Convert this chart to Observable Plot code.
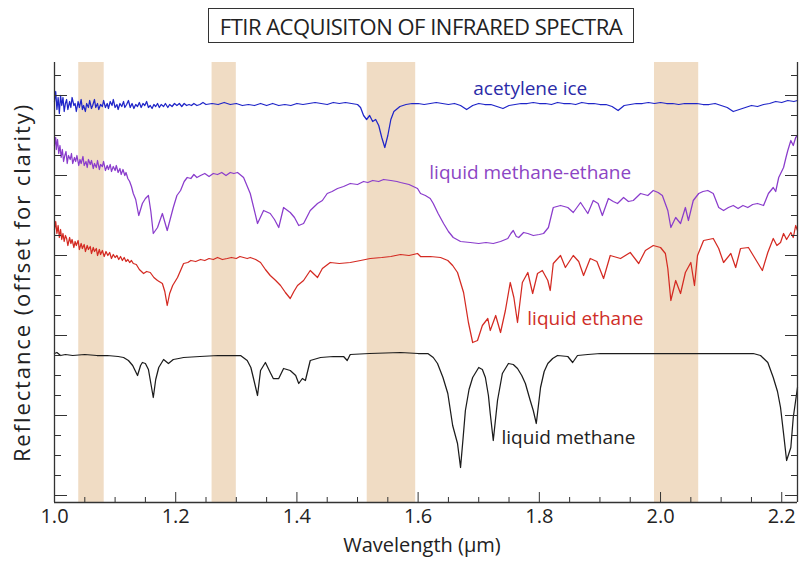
<!DOCTYPE html>
<html>
<head>
<meta charset="utf-8">
<script src="https://cdn.jsdelivr.net/npm/d3@7"></script>
<script src="https://cdn.jsdelivr.net/npm/@observablehq/plot@0.6"></script>
<style>
  html, body { margin: 0; padding: 0; background: #fff; }
  #wrap { position: relative; width: 800px; height: 561px; overflow: hidden; font-family: "Open Sans", sans-serif; }
  #title { position: absolute; left: 208px; top: 8px; width: 424px; height: 33px; border: 1.3px solid #333;
           display: flex; align-items: center; justify-content: center; font-size: 22px; color: #222; letter-spacing: -0.5px; white-space: nowrap; }
  #chart { position: absolute; left: 0; top: 0; }
</style>
</head>
<body>
<div id="wrap">
  <div id="chart"></div>
  <div id="title">FTIR ACQUISITON OF INFRARED SPECTRA</div>
</div>
<script>
// wavelength (µm), reflectance (offset units)
const acetyleneIce = [[1.000,19.7],[1.002,20.2],[1.004,19.3],[1.006,19.9],[1.008,19.1],[1.010,20.0],[1.012,19.5],[1.014,19.9],[1.016,19.2],[1.018,19.6],[1.020,19.8],[1.022,19.3],[1.025,19.7],[1.027,19.4],[1.029,19.9],[1.032,19.5],[1.034,19.6],[1.036,19.2],[1.039,19.7],[1.041,19.4],[1.044,19.8],[1.046,19.3],[1.048,19.5],[1.051,19.2],[1.053,19.6],[1.056,19.4],[1.058,19.75],[1.061,19.35],[1.063,19.5],[1.066,19.8],[1.068,19.4],[1.071,19.6],[1.073,19.3],[1.076,19.55],[1.079,19.45],[1.081,19.75],[1.084,19.4],[1.087,19.6],[1.089,19.35],[1.092,19.7],[1.095,19.5],[1.097,19.8],[1.100,19.4],[1.103,19.55],[1.105,19.3],[1.108,19.6],[1.111,19.45],[1.114,19.7],[1.116,19.4],[1.119,19.55],[1.122,19.75],[1.125,19.4],[1.128,19.6],[1.131,19.35],[1.134,19.55],[1.137,19.45],[1.140,19.65],[1.143,19.4],[1.146,19.6],[1.149,19.5],[1.152,19.7],[1.155,19.4],[1.158,19.5],[1.161,19.35],[1.164,19.55],[1.167,19.45],[1.170,19.6],[1.173,19.4],[1.176,19.55],[1.180,19.45],[1.183,19.6],[1.187,19.4],[1.190,19.55],[1.194,19.45],[1.198,19.6],[1.202,19.5],[1.206,19.6],[1.210,19.45],[1.214,19.6],[1.218,19.5],[1.222,19.55],[1.226,19.5],[1.23,19.6],[1.235,19.5],[1.24,19.55],[1.245,19.65],[1.25,19.55],[1.26,19.6],[1.27,19.55],[1.28,19.65],[1.29,19.55],[1.30,19.6],[1.31,19.5],[1.32,19.55],[1.33,19.5],[1.34,19.6],[1.35,19.5],[1.36,19.6],[1.37,19.5],[1.38,19.55],[1.39,19.5],[1.40,19.6],[1.41,19.55],[1.42,19.6],[1.43,19.65],[1.44,19.6],[1.45,19.55],[1.46,19.65],[1.47,19.6],[1.48,19.65],[1.49,19.6],[1.50,19.55],[1.505,19.4],[1.51,19.0],[1.515,18.8],[1.52,19.0],[1.525,18.7],[1.53,18.8],[1.535,18.5],[1.54,17.9],[1.545,17.4],[1.55,18.0],[1.555,18.8],[1.56,19.2],[1.57,19.45],[1.58,19.55],[1.59,19.6],[1.60,19.6],[1.61,19.55],[1.62,19.6],[1.63,19.65],[1.64,19.6],[1.65,19.55],[1.66,19.6],[1.67,19.5],[1.68,19.3],[1.69,19.5],[1.70,19.6],[1.71,19.55],[1.72,19.55],[1.73,19.45],[1.74,19.35],[1.75,19.5],[1.76,19.55],[1.77,19.6],[1.78,19.6],[1.79,19.65],[1.80,19.6],[1.81,19.6],[1.82,19.55],[1.83,19.65],[1.84,19.6],[1.85,19.6],[1.86,19.55],[1.87,19.65],[1.88,19.6],[1.89,19.6],[1.90,19.55],[1.91,19.55],[1.92,19.45],[1.93,19.25],[1.94,19.5],[1.95,19.55],[1.96,19.6],[1.97,19.6],[1.98,19.65],[1.99,19.6],[2.00,19.65],[2.01,19.6],[2.02,19.6],[2.03,19.55],[2.04,19.6],[2.05,19.6],[2.06,19.6],[2.07,19.55],[2.08,19.55],[2.09,19.6],[2.10,19.5],[2.11,19.4],[2.12,19.2],[2.13,19.3],[2.14,19.4],[2.15,19.5],[2.16,19.45],[2.17,19.55],[2.18,19.6],[2.19,19.7],[2.20,19.65],[2.21,19.75],[2.22,19.7],[2.226,19.75]];

const methaneEthane = [[1.000,17.5],[1.002,17.9],[1.003,17.3],[1.005,17.8],[1.007,17.1],[1.009,17.5],[1.011,16.9],[1.013,17.3],[1.015,16.7],[1.017,17.0],[1.019,17.2],[1.021,16.6],[1.023,17.0],[1.026,16.8],[1.028,17.1],[1.030,16.6],[1.033,16.9],[1.035,16.7],[1.037,17.0],[1.040,16.5],[1.042,16.8],[1.044,16.6],[1.047,16.95],[1.049,16.5],[1.052,16.7],[1.054,16.4],[1.056,16.8],[1.059,16.55],[1.061,16.75],[1.064,16.35],[1.066,16.6],[1.069,16.4],[1.071,16.75],[1.074,16.3],[1.076,16.55],[1.079,16.45],[1.081,16.7],[1.084,16.25],[1.087,16.5],[1.089,16.3],[1.092,16.55],[1.094,16.2],[1.097,16.45],[1.100,16.25],[1.102,16.5],[1.105,16.15],[1.108,16.35],[1.110,16.05],[1.113,16.3],[1.116,16.0],[1.118,16.15],[1.121,15.85],[1.124,15.7],[1.127,15.45],[1.130,15.1],[1.134,14.8],[1.139,14.0],[1.145,14.6],[1.150,14.85],[1.155,15.0],[1.159,14.2],[1.163,13.1],[1.170,13.4],[1.178,14.1],[1.186,13.25],[1.196,14.4],[1.202,15.0],[1.208,15.25],[1.214,15.7],[1.219,15.9],[1.225,15.85],[1.230,16.05],[1.235,15.9],[1.241,16.0],[1.248,16.1],[1.255,15.95],[1.262,16.1],[1.269,16.05],[1.276,16.15],[1.283,16.0],[1.290,16.15],[1.296,16.1],[1.302,16.15],[1.312,15.9],[1.323,15.1],[1.335,13.6],[1.345,14.25],[1.356,14.1],[1.363,13.8],[1.370,13.4],[1.378,14.4],[1.389,14.15],[1.396,13.9],[1.403,13.5],[1.411,13.6],[1.422,14.25],[1.434,14.6],[1.442,14.75],[1.450,15.1],[1.458,15.2],[1.467,15.35],[1.477,15.45],[1.488,15.6],[1.500,15.55],[1.510,15.7],[1.517,15.65],[1.525,15.75],[1.535,15.7],[1.543,15.8],[1.555,15.75],[1.565,15.7],[1.571,15.65],[1.585,15.55],[1.599,15.35],[1.604,15.1],[1.612,15.0],[1.620,14.85],[1.625,14.6],[1.633,14.1],[1.642,13.6],[1.650,13.2],[1.658,12.9],[1.670,12.7],[1.686,12.65],[1.700,12.6],[1.712,12.65],[1.724,12.6],[1.736,12.7],[1.748,12.85],[1.753,13.1],[1.757,13.25],[1.762,12.95],[1.766,12.9],[1.774,13.15],[1.781,13.1],[1.790,13.0],[1.800,13.05],[1.807,13.1],[1.815,13.4],[1.823,14.4],[1.835,14.5],[1.847,14.4],[1.856,14.15],[1.868,14.65],[1.880,14.1],[1.889,14.75],[1.897,14.6],[1.904,14.0],[1.914,14.85],[1.922,14.7],[1.929,14.6],[1.939,14.9],[1.947,14.7],[1.955,14.75],[1.967,15.1],[1.979,15.0],[1.988,15.25],[1.996,15.15],[2.003,15.0],[2.012,14.25],[2.017,13.4],[2.025,13.9],[2.033,13.6],[2.041,14.4],[2.046,13.75],[2.054,14.75],[2.063,15.1],[2.070,15.2],[2.078,15.25],[2.087,15.1],[2.096,14.4],[2.104,14.25],[2.112,14.4],[2.120,14.5],[2.128,14.35],[2.136,14.5],[2.144,14.4],[2.152,14.55],[2.160,14.6],[2.170,14.5],[2.178,15.1],[2.186,15.4],[2.190,15.2],[2.195,15.9],[2.203,16.4],[2.207,16.9],[2.210,17.25],[2.215,17.75],[2.219,17.5],[2.223,17.9],[2.226,18.0]];

const liquidEthane = [[1.000,13.3],[1.002,13.7],[1.004,13.1],[1.006,13.5],[1.008,12.9],[1.010,13.3],[1.012,12.8],[1.014,13.1],[1.016,12.7],[1.018,13.0],[1.020,12.85],[1.022,12.5],[1.025,12.9],[1.027,12.6],[1.029,12.8],[1.032,12.4],[1.034,12.7],[1.036,12.5],[1.039,12.75],[1.041,12.3],[1.044,12.6],[1.046,12.35],[1.049,12.55],[1.051,12.2],[1.054,12.5],[1.056,12.3],[1.059,12.45],[1.061,12.1],[1.064,12.4],[1.066,12.2],[1.069,12.35],[1.071,12.0],[1.074,12.3],[1.076,12.05],[1.079,12.25],[1.082,11.95],[1.085,12.2],[1.088,12.0],[1.091,12.15],[1.094,11.85],[1.097,12.05],[1.100,11.9],[1.103,12.0],[1.106,11.8],[1.109,11.95],[1.112,11.75],[1.115,11.9],[1.118,11.7],[1.121,11.8],[1.124,11.65],[1.127,11.75],[1.130,11.6],[1.135,11.55],[1.140,11.3],[1.147,11.1],[1.152,11.2],[1.158,11.15],[1.164,10.9],[1.170,10.75],[1.178,10.6],[1.182,10.2],[1.186,9.5],[1.190,10.1],[1.195,10.5],[1.203,10.9],[1.213,11.6],[1.220,11.65],[1.225,11.75],[1.233,11.7],[1.241,11.8],[1.248,11.75],[1.255,11.85],[1.262,11.8],[1.269,11.9],[1.277,11.8],[1.285,11.85],[1.292,11.9],[1.300,11.85],[1.306,11.95],[1.312,11.9],[1.318,11.85],[1.323,11.9],[1.332,11.8],[1.340,11.65],[1.348,11.3],[1.356,11.0],[1.365,10.75],[1.373,10.5],[1.381,10.15],[1.389,9.85],[1.395,10.2],[1.401,10.5],[1.411,10.75],[1.422,11.25],[1.434,10.9],[1.442,11.35],[1.455,11.65],[1.470,11.6],[1.488,11.65],[1.505,11.75],[1.521,11.85],[1.540,11.9],[1.555,11.95],[1.571,12.05],[1.585,12.0],[1.599,12.1],[1.604,11.95],[1.620,11.95],[1.637,11.9],[1.649,11.75],[1.657,11.5],[1.665,11.15],[1.675,10.15],[1.683,8.65],[1.690,7.65],[1.698,7.75],[1.706,8.5],[1.715,8.85],[1.719,8.25],[1.728,9.0],[1.736,8.15],[1.744,9.25],[1.752,10.65],[1.758,9.9],[1.764,8.65],[1.772,10.65],[1.781,11.15],[1.789,10.1],[1.797,11.1],[1.805,11.25],[1.814,10.75],[1.818,10.25],[1.823,11.6],[1.835,12.0],[1.843,11.4],[1.856,12.0],[1.865,11.7],[1.873,11.0],[1.884,11.85],[1.895,11.7],[1.906,10.85],[1.917,12.0],[1.934,11.85],[1.950,12.15],[1.964,11.6],[1.975,12.25],[1.988,12.5],[2.000,12.4],[2.008,12.1],[2.012,11.35],[2.017,9.75],[2.025,10.75],[2.033,10.1],[2.041,11.15],[2.050,11.65],[2.056,10.5],[2.061,12.0],[2.071,12.75],[2.087,12.85],[2.096,12.35],[2.104,11.65],[2.116,12.1],[2.124,11.4],[2.132,12.35],[2.145,12.4],[2.153,12.0],[2.168,11.25],[2.177,12.15],[2.186,12.85],[2.192,12.5],[2.198,12.65],[2.203,13.1],[2.208,12.8],[2.215,13.15],[2.219,12.9],[2.223,13.5],[2.226,13.25]];

const liquidMethane = [[1.000,7.1],[1.004,7.15],[1.010,7.0],[1.018,7.05],[1.030,7.0],[1.050,7.05],[1.070,7.0],[1.087,7.0],[1.105,6.95],[1.114,6.9],[1.122,6.75],[1.129,6.5],[1.137,6.0],[1.142,6.5],[1.145,6.65],[1.150,6.6],[1.155,6.3],[1.159,5.6],[1.163,4.9],[1.167,5.8],[1.172,6.4],[1.180,6.8],[1.188,6.6],[1.196,6.8],[1.205,6.85],[1.213,6.9],[1.240,6.95],[1.270,7.0],[1.307,7.0],[1.318,6.75],[1.324,6.4],[1.328,5.9],[1.335,5.0],[1.340,6.25],[1.348,6.65],[1.356,6.15],[1.361,5.85],[1.370,5.85],[1.378,6.35],[1.389,6.25],[1.398,6.0],[1.403,5.6],[1.409,5.85],[1.414,5.75],[1.422,6.75],[1.439,6.9],[1.460,6.95],[1.477,6.95],[1.483,6.75],[1.488,7.05],[1.520,7.1],[1.571,7.15],[1.600,7.1],[1.616,7.1],[1.625,6.9],[1.632,6.6],[1.641,5.9],[1.649,5.1],[1.657,3.5],[1.665,2.6],[1.670,1.4],[1.674,2.8],[1.678,4.25],[1.684,5.3],[1.690,5.9],[1.700,6.4],[1.706,6.3],[1.711,5.9],[1.716,5.0],[1.719,4.1],[1.724,2.75],[1.731,4.75],[1.739,6.1],[1.749,6.6],[1.757,6.55],[1.764,6.35],[1.771,6.0],[1.777,5.6],[1.785,4.75],[1.790,4.25],[1.795,3.6],[1.802,5.4],[1.808,6.2],[1.814,6.6],[1.822,6.85],[1.830,7.0],[1.847,6.95],[1.855,6.65],[1.863,7.0],[1.880,7.05],[1.901,7.1],[1.950,7.1],[2.000,7.1],[2.050,7.1],[2.100,7.1],[2.130,7.1],[2.153,7.1],[2.165,7.0],[2.177,6.65],[2.186,5.9],[2.193,5.2],[2.198,4.4],[2.203,3.1],[2.208,1.75],[2.215,2.4],[2.219,3.9],[2.226,5.4]];

const spectra = [
  {name: "acetylene ice", data: acetyleneIce, stroke: "#1f25c8"},
  {name: "liquid methane-ethane", data: methaneEthane, stroke: "#8a3ccc"},
  {name: "liquid ethane", data: liquidEthane, stroke: "#d42a22"},
  {name: "liquid methane", data: liquidMethane, stroke: "#1c1c1c"}
];

// shaded wavelength windows [start, end]
const bandStart = [1.040, 1.260, 1.516, 1.990];
const bandEnd   = [1.082, 1.300, 1.596, 2.063];

// curve labels
const labelText = ["acetylene ice", "liquid methane-ethane", "liquid ethane", "liquid methane"];
const labelX    = [1.785, 1.785, 1.876, 1.848];
const labelY    = [20.35, 16.15, 8.85, 2.9];
const labelFill = ["#2b2ba8", "#8c45c4", "#cf2e28", "#222222"];

const xDomain = [1.0, 2.226];
const yDomain = [-0.35, 21.65];
const xMajorTicks = [1.0, 1.2, 1.4, 1.6, 1.8, 2.0, 2.2];
const xMinorTicks = [1.05, 1.1, 1.15, 1.25, 1.3, 1.35, 1.45, 1.5, 1.55, 1.65, 1.7, 1.75, 1.85, 1.9, 1.95, 2.05, 2.1, 2.15];
const yMajorTicks = [0, 4, 8, 12, 16, 20];
const yMinorTicks = [1, 2, 3, 5, 6, 7, 9, 10, 11, 13, 14, 15, 17, 18, 19, 21];

const bands = bandStart.map((s, i) => ({x1: s, x2: bandEnd[i]}));
const labels = labelText.map((t, i) => ({text: t, x: labelX[i], y: labelY[i], fill: labelFill[i]}));

const axisColor = "#333";
const chart = Plot.plot({
  width: 800,
  height: 561,
  marginLeft: 54,
  marginRight: 3,
  marginTop: 62,
  marginBottom: 59,
  style: {fontFamily: "Open Sans, sans-serif", fontSize: "20px", color: "#222", background: "transparent"},
  x: {domain: xDomain},
  y: {domain: yDomain},
  marks: [
    Plot.rect(bands, {x1: "x1", x2: "x2", fill: "#f0dcc4"}),
    ...spectra.map(s => Plot.line(s.data, {x: d => d[0], y: d => d[1], stroke: s.stroke, strokeWidth: 1.25})),
    Plot.text(labels, {x: "x", y: "y", text: "text", fill: "fill", fontSize: 19}),
    Plot.ruleX([xDomain[0], xDomain[1]], {stroke: axisColor, strokeWidth: 1.3}),
    Plot.ruleY([yDomain[0]], {stroke: axisColor, strokeWidth: 1.3}),
    Plot.axisX({ticks: xMinorTicks, tickSize: -5, fill: "none", stroke: axisColor, label: null}),
    Plot.axisX({ticks: xMajorTicks, tickSize: -10, fill: "none", stroke: axisColor, label: null}),
    Plot.axisX({ticks: xMajorTicks, tickSize: 0, tickPadding: 6, tickFormat: d => d.toFixed(1), fontSize: 20, label: null}),
    Plot.axisY({anchor: "left", ticks: yMinorTicks, tickSize: -7, fill: "none", stroke: axisColor, label: null}),
    Plot.axisY({anchor: "left", ticks: yMajorTicks, tickSize: -13, fill: "none", stroke: axisColor, label: null}),
    Plot.axisY({anchor: "right", ticks: yMinorTicks, tickSize: -7, fill: "none", stroke: axisColor, label: null}),
    Plot.axisY({anchor: "right", ticks: yMajorTicks, tickSize: -13, fill: "none", stroke: axisColor, label: null}),
    Plot.text(["Wavelength (μm)"], {frameAnchor: "bottom", dy: 49, dx: -4, fontSize: 20, fill: "#222"}),
    Plot.text(["Reflectance (offset for clarity)"], {frameAnchor: "left", textAnchor: "middle", rotate: -90, dx: -32, fontSize: 22, fill: "#222"})
  ]
});
// widen the y-axis title's letter spacing to match the reference
d3.select(chart).selectAll("text").filter(function() { return this.textContent === "Reflectance (offset for clarity)"; })
  .style("letter-spacing", "1.9px");
document.getElementById("chart").appendChild(chart);
</script>
</body>
</html>
